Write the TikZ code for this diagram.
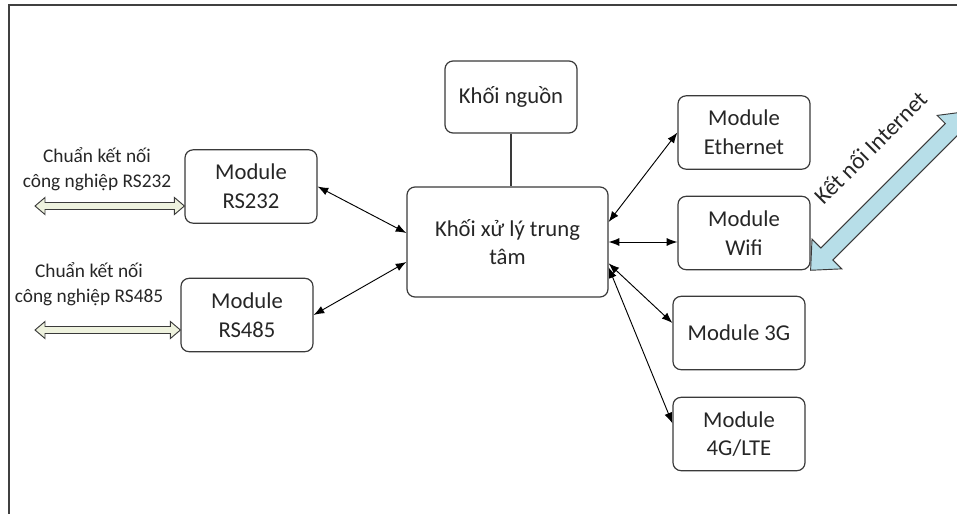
\documentclass[tikz,border=0pt]{standalone}
\usepackage{fontspec}
\setmainfont{Carlito}
\usetikzlibrary{arrows.meta,calc}
\definecolor{vienxam}{HTML}{3A3A3A}
\definecolor{xanhnhat}{HTML}{B7DEE8}
\definecolor{beonhat}{HTML}{EEF2DE}

\begin{document}
\begin{tikzpicture}[x=0.75pt,y=-0.75pt,
  khoi/.style={draw=vienxam,line width=0.9pt,rounded corners=6pt,fill=white,
    minimum width=99pt,minimum height=55pt,align=center,text=black!85,inner sep=2pt,
    font=\fontsize{17}{21.5}\selectfont},
  noi/.style={line width=0.7pt,{Latex[length=8pt,width=6pt]}-{Latex[length=8pt,width=6pt]}},
  mui/.style={draw=vienxam,line width=0.7pt,fill=beonhat},
  nhan/.style={align=center,inner sep=0pt,text=black!85,font=\fontsize{14.5}{18.75}\selectfont}]
  \clip (0,0) rectangle (957,514);
  % khung
  \draw[black!75,line width=1.2pt] (9,514) -- (9,5) -- (957,5);
  % cac khoi
  \node[khoi,minimum height=54pt] (nguon) at (511,97) {Khối nguồn};
  \node[khoi,minimum width=150.75pt,minimum height=82.5pt] (xuly) at (507.5,242) {Khối xử lý trung\\tâm};
  \node[khoi] (rs232) at (251,186.5) {Module\\RS232};
  \node[khoi] (rs485) at (247,315) {Module\\RS485};
  \node[khoi] (eth) at (744,132.5) {Module\\Ethernet};
  \node[khoi] (wifi) at (744,233) {Module\\Wifi};
  \node[khoi] (g3) at (739,333) {Module 3G};
  \node[khoi] (g4) at (739,434) {Module\\4G/LTE};
  % ket noi
  \draw[vienxam,line width=0.9pt] (nguon.south) -- (nguon.south |- xuly.north);
  \draw[noi] (rs232.east) -- ([yshift=6.75pt]xuly.west);
  \draw[noi] (rs485.east) -- ([yshift=-15pt]xuly.west);
  \draw[noi] ([yshift=15pt]xuly.east) -- (eth.west);
  \draw[noi] (xuly.east) -- (wifi.west |- xuly.east);
  \draw[noi] ([yshift=-16pt]xuly.east) -- ([yshift=7.5pt]g3.west);
  \draw[noi] ([yshift=-19pt]xuly.east) -- ([yshift=8pt]g4.west);
  % chuan cong nghiep
  \coordinate (vao232) at (35,206);
  \coordinate (vao485) at (35,330);
  \filldraw[mui] (vao232) -- ++(10,-8.5) -- ++(0,5) -- ($(rs232.west |- vao232)+(-10,-3.5)$) -- ++(0,-5)
    -- (rs232.west |- vao232) -- ++(-10,8.5) -- ++(0,-5) -- ($(vao232)+(10,3.5)$) -- ++(0,5) -- cycle;
  \filldraw[mui] (vao485) -- ++(10,-8.5) -- ++(0,5) -- ($(rs485.west |- vao485)+(-10,-3.5)$) -- ++(0,-5)
    -- (rs485.west |- vao485) -- ++(-10,8.5) -- ++(0,-5) -- ($(vao485)+(10,3.5)$) -- ++(0,5) -- cycle;
  \node[nhan] (nhan232) at (97,169) {Chuẩn kết nối\\công nghiệp RS232};
  \node[nhan] (nhan485) at (89,284) {Chuẩn kết nối\\công nghiệp RS485};
  % internet
  \begin{scope}[shift={(wifi.south east)},rotate=45]
    \filldraw[draw=vienxam,line width=0.7pt,fill=xanhnhat] (0,0) -- (23,-21) -- (23,-8.5) -- (199,-8.5) -- (199,-20)
      -- (225,0) -- (199,20) -- (199,8.5) -- (23,8.5) -- (23,21) -- cycle;
    \node[rotate=45,text=black!85,font=\fontsize{17.5}{21}\selectfont] (internet) at (129,-45) {Kết nối Internet};
  \end{scope}
\end{tikzpicture}
\end{document}
